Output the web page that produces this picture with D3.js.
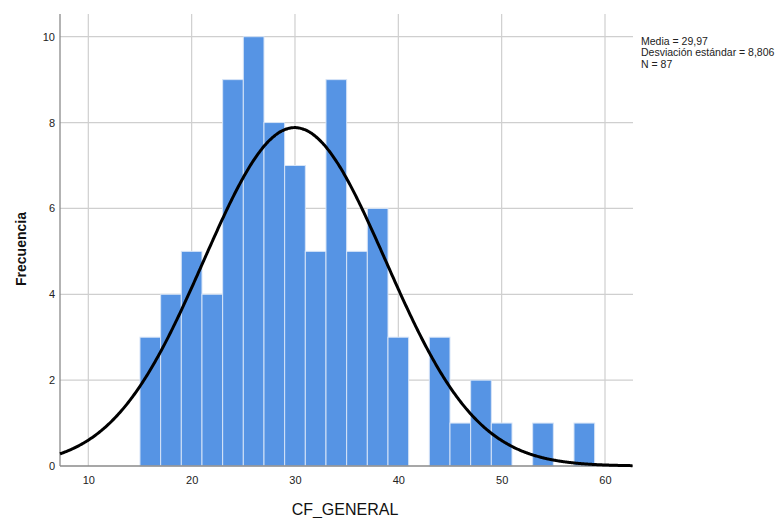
<!DOCTYPE html>
<html><head><meta charset="utf-8">
<script src="https://cdn.jsdelivr.net/npm/d3@7"></script>
<style>body{margin:0;background:#fff}svg{display:block}text{font-family:"Liberation Sans",Arial,sans-serif}</style>
</head><body>
<svg id="c" width="779" height="518"></svg>
<script>
const binStarts = [15,17,19,21,23,25,27,29,31,33,35,37,39,41,43,45,47,49,51,53,55,57];
const frequencies = [3,4,5,4,9,10,8,7,5,9,5,6,3,0,3,1,2,1,0,1,0,1];
const binWidth = 2;
const xTicks = [10,20,30,40,50,60];
const yTicks = [0,2,4,6,8,10];
const mean = 29.97, sd = 8.806, n = 87;
const legendLines = ["Media = 29,97","Desviación estándar = 8,806","N = 87"];

const svg = d3.select("#c");
const L=60, R=633, T=14, B=466;
const x = d3.scaleLinear().domain([7.26,62.71]).range([L,R]);
const y = d3.scaleLinear().domain([0,10]).range([B,36.7]);

// grid
svg.append("g").selectAll("line").data(xTicks).join("line")
  .attr("x1",d=>x(d)).attr("x2",d=>x(d)).attr("y1",T).attr("y2",B)
  .attr("stroke","#cfcfcf").attr("stroke-width",1.2);
svg.append("g").selectAll("line").data(yTicks.filter(d=>d>0)).join("line")
  .attr("x1",L).attr("x2",R).attr("y1",d=>y(d)).attr("y2",d=>y(d))
  .attr("stroke","#cfcfcf").attr("stroke-width",1.2);

// bars
const bars = binStarts.map((s,i)=>({s,v:frequencies[i]})).filter(d=>d.v>0);
svg.append("g").selectAll("rect").data(bars).join("rect")
  .attr("x",d=>x(d.s)).attr("width",d=>x(d.s+binWidth)-x(d.s))
  .attr("y",d=>y(d.v)).attr("height",d=>y(0)-y(d.v))
  .attr("fill","#5694e4").attr("stroke","#d6e4f7").attr("stroke-width",1);

// axes
const xa = svg.append("g").attr("transform",`translate(0,${B})`)
  .call(d3.axisBottom(x).tickValues(xTicks).tickSize(0).tickPadding(10));
const ya = svg.append("g").attr("transform",`translate(${L},0)`)
  .call(d3.axisLeft(y).tickValues(yTicks).tickSize(0).tickPadding(5));
[xa,ya].forEach(a=>{a.select(".domain").remove();a.selectAll("text").attr("font-size","11px").attr("fill","#222").attr("font-family","Liberation Sans, Arial, sans-serif");});
svg.append("line").attr("x1",L).attr("x2",L).attr("y1",T).attr("y2",B).attr("stroke","#8a8a8a").attr("stroke-width",1.3);
svg.append("line").attr("x1",L).attr("x2",R).attr("y1",B).attr("y2",B).attr("stroke","#8a8a8a").attr("stroke-width",1.3);

// normal curve
const k = n*binWidth/(sd*Math.sqrt(2*Math.PI));
const xs = d3.range(7.26,62.72,0.1);
const line = d3.line().x(d=>x(d)).y(d=>y(k*Math.exp(-0.5*((d-mean)/sd)**2))).curve(d3.curveBasis);
svg.append("path").datum(xs).attr("d",line).attr("fill","none").attr("stroke","#000").attr("stroke-width",3);

// labels
svg.append("text").attr("x",345).attr("y",515).attr("text-anchor","middle").attr("font-size","16px").attr("fill","#111").text("CF_GENERAL");
svg.append("text").attr("transform","translate(26,249) rotate(-90)").attr("text-anchor","middle").attr("font-size","14px").attr("font-weight","bold").attr("fill","#111").text("Frecuencia");

svg.append("g").selectAll("text").data(legendLines).join("text")
  .attr("x",641).attr("y",(d,i)=>45+i*11.3).attr("font-size","10.5px").attr("fill","#222").text(d=>d);
</script>
</body></html>
